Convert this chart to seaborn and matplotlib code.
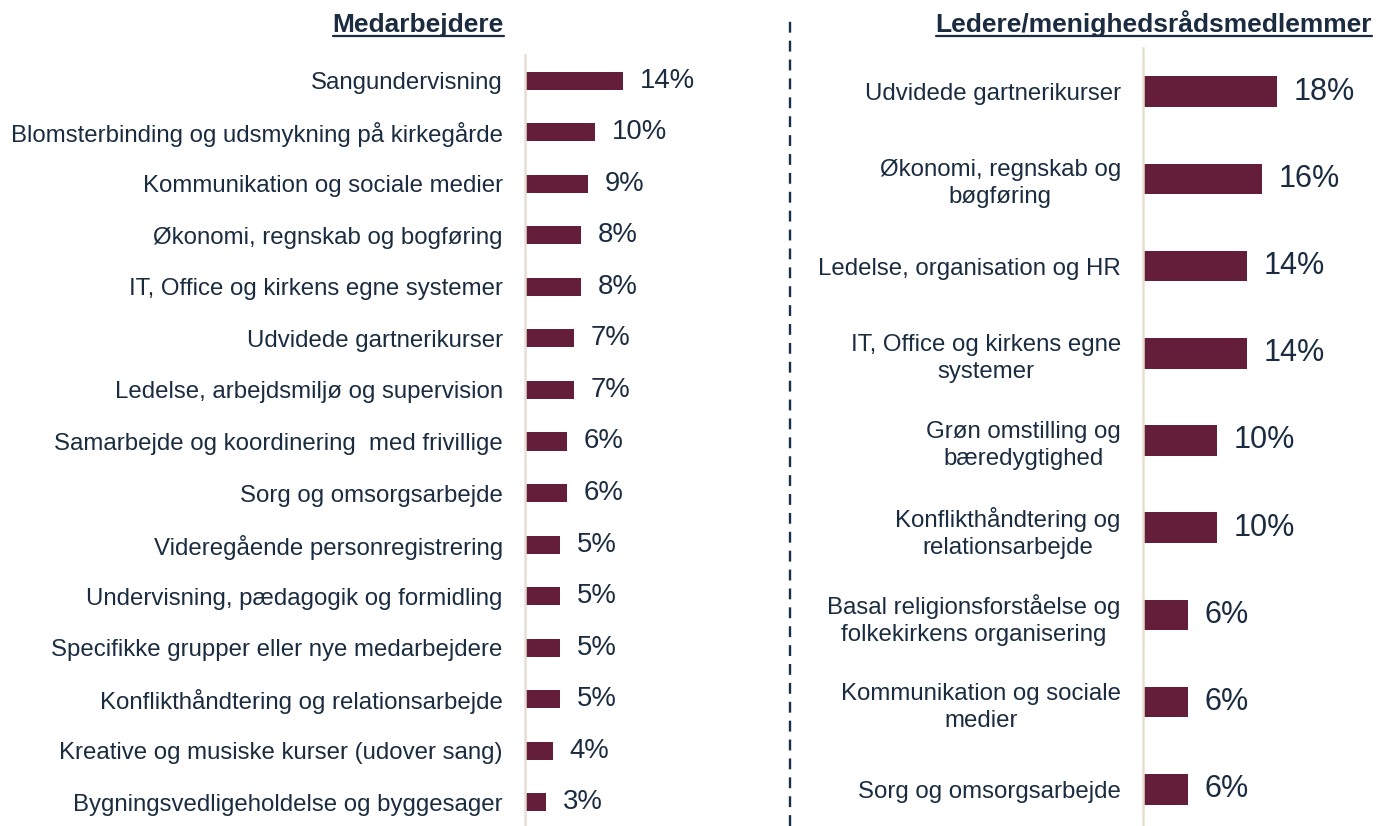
import matplotlib
matplotlib.use("Agg")
import matplotlib.pyplot as plt
import seaborn as sns
from matplotlib.lines import Line2D

sns.set_theme(style="white")
plt.rcParams['font.family'] = ['Liberation Sans', 'DejaVu Sans']

left_title = "Medarbejdere"
left_cats = ["Sangundervisning",
             "Blomsterbinding og udsmykning på kirkegårde",
             "Kommunikation og sociale medier",
             "Økonomi, regnskab og bogføring",
             "IT, Office og kirkens egne systemer",
             "Udvidede gartnerikurser",
             "Ledelse, arbejdsmiljø og supervision",
             "Samarbejde og koordinering  med frivillige",
             "Sorg og omsorgsarbejde",
             "Videregående personregistrering",
             "Undervisning, pædagogik og formidling",
             "Specifikke grupper eller nye medarbejdere",
             "Konflikthåndtering og relationsarbejde",
             "Kreative og musiske kurser (udover sang)",
             "Bygningsvedligeholdelse og byggesager"]
left_vals = [14, 10, 9, 8, 8, 7, 7, 6, 6, 5, 5, 5, 5, 4, 3]

right_title = "Ledere/menighedsrådsmedlemmer"
right_cats = ["Udvidede gartnerikurser",
              "Økonomi, regnskab og\nbøgføring",
              "Ledelse, organisation og HR",
              "IT, Office og kirkens egne\nsystemer",
              "Grøn omstilling og\nbæredygtighed",
              "Konflikthåndtering og\nrelationsarbejde",
              "Basal religionsforståelse og\nfolkekirkens organisering",
              "Kommunikation og sociale\nmedier",
              "Sorg og omsorgsarbejde"]
right_vals = [18, 16, 14, 14, 10, 10, 6, 6, 6]

BAR = "#641E3A"
TXT = "#1B2C40"
AXC = "#E6DED3"
DASH = "#17314A"

W, H = 1377, 826
fig = plt.figure(figsize=(W / 100, H / 100), dpi=100)

def px_axes(x0, y0_top, x1, y1_bot):
    return fig.add_axes([x0 / W, 1 - y1_bot / H, (x1 - x0) / W, (y1_bot - y0_top) / H])

axL = px_axes(525, 55, 775, 828)
axR = px_axes(1143, 48, 1377, 833)

def draw(ax, cats, vals, xmax, vsize):
    sns.barplot(x=vals, y=cats, orient="h", color=BAR, width=0.35, ax=ax,
                saturation=1, edgecolor="none")
    ax.set_xlim(0, xmax)
    ax.set_ylim(len(cats) - 0.5, -0.5)
    for s in ["top", "right", "bottom"]:
        ax.spines[s].set_visible(False)
    ax.spines["left"].set_color(AXC)
    ax.spines["left"].set_linewidth(1.8)
    ax.set_xticks([])
    ax.set_xlabel("")
    ax.set_ylabel("")
    ax.tick_params(axis="y", length=0, pad=16, labelsize=17.3, labelcolor=TXT)
    for t in ax.get_yticklabels():
        t.set_multialignment("center")
        t.set_linespacing(1.3)
    ax.bar_label(ax.containers[0], labels=[f"{v}%" for v in vals],
                 padding=12, fontsize=vsize, color=TXT)
    ax.patch.set_alpha(0)

draw(axL, left_cats, left_vals, 250 / 7.0, 19.8)
draw(axR, right_cats, right_vals, 234 / 7.44, 22)

# titles (right aligned to label edge), bold + underlined
tL = fig.text(504 / W, 1 - 32 / H, left_title, ha="right", va="baseline",
              fontsize=19, fontweight="bold", color=TXT)
tR = fig.text(1372 / W, 1 - 32 / H, right_title, ha="right", va="baseline",
              fontsize=19, fontweight="bold", color=TXT)
fig.canvas.draw()
r = fig.canvas.get_renderer()
for t in (tL, tR):
    bb = t.get_window_extent(r)
    yline = (H - 35.5)
    fig.add_artist(Line2D([bb.x0 / W, bb.x1 / W], [yline / H, yline / H],
                          transform=fig.transFigure, color=TXT, lw=1.6))

# dashed divider
fig.add_artist(Line2D([790 / W, 790 / W], [0, 1 - 15 / H], transform=fig.transFigure,
                      color=DASH, lw=1.7, linestyle=(0, (4.6, 3.4))))

fig.savefig("out.png", dpi=100)
